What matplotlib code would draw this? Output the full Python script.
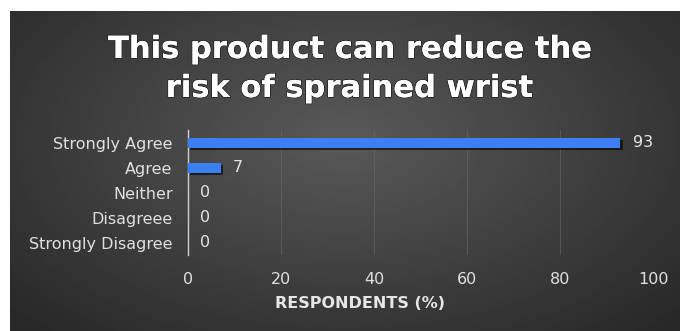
import numpy as np
import matplotlib
matplotlib.use("Agg")
import matplotlib.pyplot as plt
import matplotlib.patheffects as pe

plt.rcParams["font.family"] = ["DejaVu Sans"]

categories = ["Strongly Agree", "Agree", "Neither", "Disagreee", "Strongly Disagree"]
respondents = [93, 7, 0, 0, 0]
x_ticks = [0, 20, 40, 60, 80, 100]
title_lines = ["This product can reduce the", "risk of sprained wrist"]

W, H = 680, 331
fig = plt.figure(figsize=(W / 100, H / 100), dpi=100, facecolor="white")

# dark panel with a soft radial gradient behind everything
bg = fig.add_axes([10 / W, 0, 670 / W, 320 / H])
bg.set_axis_off()
yy, xx = np.mgrid[0:1:200j, 0:1:400j]
dist = np.sqrt(((xx - 0.5) / 0.75) ** 2 + ((yy - 0.4) / 0.9) ** 2)
shade = np.clip(0.35 - 0.21 * dist, 0.16, 0.35)
bg.imshow(shade, cmap="gray", vmin=0, vmax=1, aspect="auto", extent=[0, 1, 0, 1])

ax = fig.add_axes([188 / W, 1 - 255 / H, 465 / W, 125 / H])
ax.set_facecolor("none")
y = np.arange(len(categories))
bars = ax.barh(y, respondents, height=0.4, color="#3b7ff2", zorder=3)
for b in bars:
    b.set_path_effects([pe.SimplePatchShadow(offset=(1.5, -1.5), shadow_rgbFace="black", alpha=0.6), pe.Normal()])

for yi, v in zip(y, respondents):
    ax.text(v + 2.6, yi, str(v), va="center", ha="left", color="#e6e6e6", fontsize=11.5)

ax.set_xlim(0, 100)
ax.set_ylim(len(categories) - 0.5, -0.5)
ax.set_yticks(y)
ax.set_yticklabels(categories)
ax.set_xticks(x_ticks)
ax.tick_params(axis="both", length=0, colors="#e0e0e0", labelsize=11.5)
ax.tick_params(axis="x", pad=12)
ax.tick_params(axis="y", pad=11)
ax.grid(axis="x", color="#6a6a6a", linewidth=0.7, alpha=0.6, zorder=0)
for s in ["top", "right", "bottom"]:
    ax.spines[s].set_visible(False)
ax.spines["left"].set_color("#d0d0d0")
ax.spines["left"].set_linewidth(1.0)
# label sits left of the axis centre in the original
ax.set_xlabel("RESPONDENTS (%)", color="#e6e6e6", fontsize=11.5, fontweight="bold",
              labelpad=7, x=0.37)

for i, line in enumerate(title_lines):
    fig.text(349 / W, 1 - (58 + 39 * i) / H, line, ha="center", va="baseline",
             color="white", fontsize=22, fontweight="bold",
             path_effects=[pe.SimpleLineShadow(offset=(1, -1.5), shadow_color="black", alpha=0.8),
                           pe.withStroke(linewidth=1.2, foreground="#222222"),
                           pe.Normal()])

fig.savefig("out.png", dpi=100, facecolor="white")
